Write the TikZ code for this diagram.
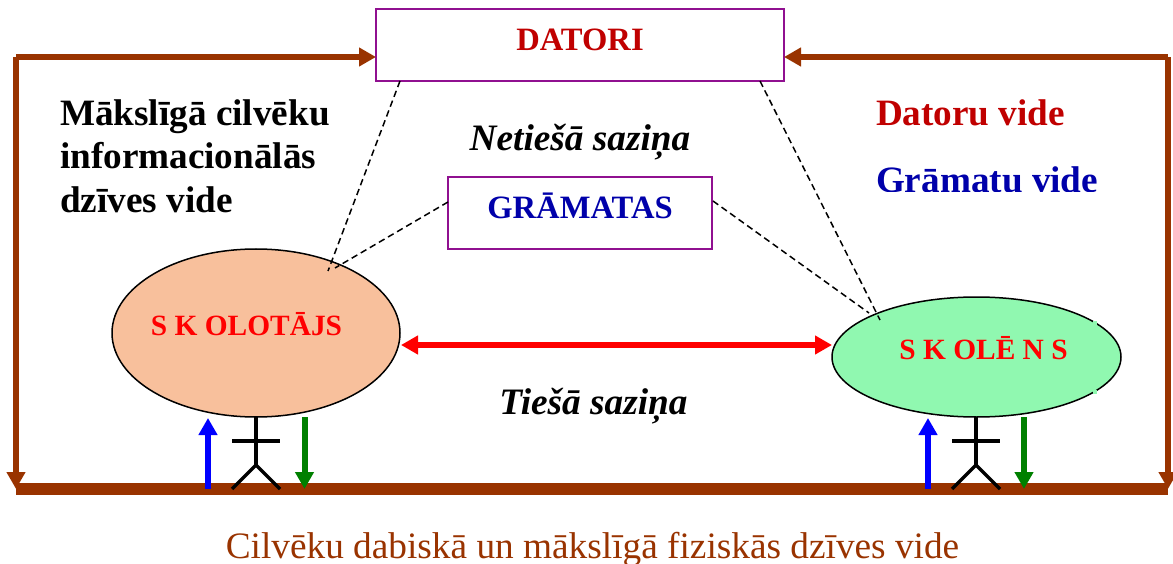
\documentclass[tikz,border=0pt]{standalone}
\usepackage{fontspec}
\setmainfont{Liberation Serif}
\usetikzlibrary{arrows.meta,shapes.geometric}
\definecolor{brownline}{RGB}{153,51,0}
\definecolor{boxpurple}{RGB}{144,16,144}
\definecolor{titlered}{RGB}{192,0,0}
\definecolor{navy}{RGB}{0,0,170}
\definecolor{peach}{RGB}{248,192,156}
\definecolor{mint}{RGB}{144,248,176}
\definecolor{dgreen}{RGB}{0,128,0}
\tikzset{
  x=1pt,y=-1pt,
  box/.style={draw=boxpurple,line width=1.8pt,fill=white,inner sep=0pt,outer sep=0pt},
  person/.style={ellipse,draw=black,line width=1.5pt,inner sep=0pt,outer sep=0pt},
  bigtip/.style={-{Triangle[length=17pt,width=18pt]}},
  brownarrow/.style={draw=brownline,line width=6pt,bigtip},
  brownbar/.style={draw=brownline,line width=11.5pt},
  dashline/.style={draw=black,line width=1.5pt,dash pattern=on 6.5pt off 4pt},
  redarrow/.style={draw=red,line width=5.5pt,{Triangle[length=17pt,width=18pt]}-{Triangle[length=17pt,width=18pt]}},
  bluearrow/.style={draw=blue,line width=6pt,bigtip},
  greenarrow/.style={draw=dgreen,line width=6pt,bigtip},
  stick/.style={draw=black,line width=3.3pt},
  lbl/.style={inner sep=0pt,outer sep=0pt,anchor=base west},
  ctr/.style={inner sep=0pt,outer sep=0pt,anchor=base},
  head/.style={font=\bfseries\fontsize{32.6}{33}\selectfont},
  side/.style={font=\bfseries\fontsize{37.2}{37}\selectfont},
  ital/.style={font=\bfseries\itshape\fontsize{37.3}{37}\selectfont},
  who/.style={font=\bfseries\fontsize{29.4}{29}\selectfont,text=red},
}
\begin{document}
\begin{tikzpicture}
\useasboundingbox (0,0) rectangle (1173,564);
\coordinate (tl) at (16,57);
\coordinate (tr) at (1168,57);
\coordinate (bl) at (16,489);
\coordinate (br) at (1168,489);
% boxes and ellipses
\node[box,minimum width=408pt,minimum height=72pt] (dat) at (580,45) {};
\node[ctr,head,text=titlered] (datt) at (580,51) {DATORI};
\node[box,minimum width=264pt,minimum height=72pt] (gra) at (580,213) {};
\node[ctr,head,text=navy] (grat) at (580,219) {GRĀMATAS};
\node[person,fill=peach,minimum width=288pt,minimum height=168pt] (sk) at (256,333) {};
\node[person,fill=mint,minimum width=289pt,minimum height=120pt] (sl) at (976.5,357) {};
\fill[mint] (1093,321) rectangle (1097,325);
\fill[mint] (1093,390) rectangle (1097,394);
\node[ctr,who] (skt) at (246.5,335) {S K OLOTĀJS};
\node[ctr,who] (slt) at (983.5,359) {S K OLĒ N S};
% frame
\draw[brownarrow] (tl) -- (tl -| dat.west);
\draw[brownarrow] (tr) -- (tr -| dat.east);
\draw[brownarrow] (tl) -- (bl);
\draw[brownarrow] (tr) -- (br);
\draw[brownbar] (bl) -- (br);
% dashed links
\coordinate (da) at (400,81);
\coordinate (db) at (328,271);
\coordinate (dc) at (448,202);
\coordinate (dd) at (335,268);
\coordinate (de) at (760,81);
\coordinate (df) at (880,320);
\coordinate (dg) at (713,201);
\coordinate (dh) at (869,313);
\draw[dashline] (da) -- (db);
\draw[dashline] (dc) -- (dd);
\draw[dashline] (de) -- (df);
\draw[dashline] (dg) -- (dh);
% direct link
\coordinate (ra) at (401,345);
\coordinate (rb) at (832,345);
\draw[redarrow] (ra) -- (rb);
% figures
\coordinate (p1) at (256,417);
\coordinate (p1h) at (256,465);
\draw[stick] (p1) -- (p1h);
\draw[stick] (232,441) -- (280,441);
\draw[stick] (232,489) -- (p1h) -- (280,489);
\coordinate (p2) at (976,417);
\coordinate (p2h) at (976,465);
\draw[stick] (p2) -- (p2h);
\draw[stick] (952,441) -- (1000,441);
\draw[stick] (952,489) -- (p2h) -- (1000,489);
\draw[bluearrow] (208,489) -- (208,418);
\draw[greenarrow] (304.5,417) -- (304.5,489);
\draw[bluearrow] (928,489) -- (928,418);
\draw[greenarrow] (1024,417) -- (1024,489);
% labels
\node[lbl,side] (m1) at (60,126) {Mākslīgā cilvēku};
\node[lbl,side] (m2) at (60,169) {informacionālās};
\node[lbl,side] (m3) at (60,213) {dzīves vide};
\node[ctr,ital] (net) at (580,151) {Netiešā saziņa};
\node[ctr,ital] (tie) at (593.5,414) {Tiešā saziņa};
\node[lbl,side,text=titlered] (dv) at (876,126) {Datoru vide};
\begin{scope}
\clip (870,150) rectangle (1110,192);
\node[lbl,side,text=navy] (gv) at (876,193) {Grāmatu vide};
\end{scope}
\node[ctr,text=brownline,font=\fontsize{37.3}{37}\selectfont] (bot) at (592.5,558) {Cilvēku dabiskā un mākslīgā fiziskās dzīves vide};
\end{tikzpicture}
\end{document}
